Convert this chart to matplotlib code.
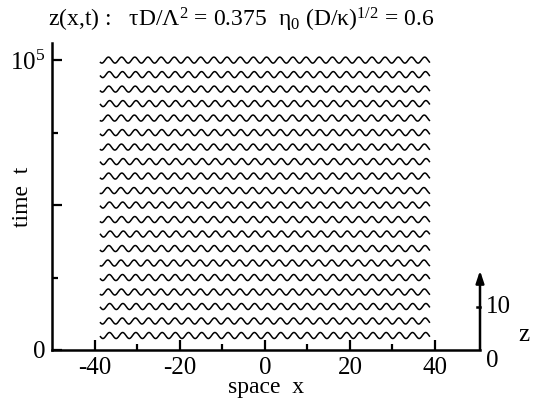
import matplotlib
matplotlib.use('Agg')
import matplotlib.pyplot as plt
import numpy as np

plt.rcParams['font.family'] = ['Liberation Serif', 'DejaVu Serif']
plt.rcParams['mathtext.fontset'] = 'custom'
plt.rcParams['mathtext.rm'] = 'Liberation Serif'
plt.rcParams['mathtext.it'] = 'Liberation Serif'

# times at which the profile z(x,t) is shown
t_values = [5000, 10000, 15000, 20000, 25000, 30000, 35000, 40000, 45000, 50000,
            55000, 60000, 65000, 70000, 75000, 80000, 85000, 90000, 95000, 100000]
# phase of the ripple on each line (radians), read by eye
phases = [0.3, 0.5, 0.2, 0.9, 0.4, 1.1, 0.6, 0.0, 0.8, 0.3,
          1.2, 0.7, 0.1, 0.9, 0.5, 1.0, 0.2, 0.6, 0.4, 0.8]
x_start = -38.7
x_end = 38.7
wavelength = 3.1      # space units
amplitude = 0.7       # z units
z_to_t = 1480.0       # one z unit drawn as this many t units

xticks_major = [-40, -20, 0, 20, 40]
xticks_minor = [-30, -10, 10, 30]
yticks_major = [0, 50000, 100000]
yticks_minor = [25000, 75000]

fig = plt.figure(figsize=(5.38, 4.05), dpi=100)
ax = fig.add_axes([52/538, 55/405, 428/538, 307/405])

x = np.linspace(x_start, x_end, 1200)
for t, ph in zip(t_values, phases):
    z = amplitude * np.sin(2*np.pi*x/wavelength + ph)
    ax.plot(x, t + z*z_to_t, color='black', lw=1.1)

ax.set_xlim(-50.1, 50.6)
ax.set_ylim(0, 105900)

ax.set_xticks(xticks_major)
ax.set_xticks(xticks_minor, minor=True)
ax.set_xticklabels(['-40', '-20', '0', '20', '40'])
ax.set_yticks(yticks_major)
ax.set_yticks(yticks_minor, minor=True)
ax.set_yticklabels(['0', '', r'$10^5$'])

ax.tick_params(axis='both', which='major', direction='in', length=7, width=1.6,
               labelsize=18, top=False, right=False)
ax.tick_params(axis='both', which='minor', direction='in', length=4, width=1.6,
               top=False, right=False)
ax.tick_params(axis='x', pad=5)
ax.tick_params(axis='y', pad=5)

for s in ['top', 'right']:
    ax.spines[s].set_visible(False)
for s in ['left', 'bottom']:
    ax.spines[s].set_linewidth(1.8)

ax.set_xlabel('space  x', fontsize=17)
ax.xaxis.set_label_coords(0.5, -0.088)
ax.set_ylabel('time  t', fontsize=17)
ax.yaxis.set_label_coords(-0.045, 0.5)

# z scale arrow on the right
xr = 50.6
ax.annotate('', xy=(xr, 18.5*z_to_t), xytext=(xr, 0),
            arrowprops=dict(arrowstyle='-|>,head_length=0.6,head_width=0.2',
                            color='black', lw=1.8,
                            mutation_scale=12, shrinkA=0, shrinkB=0),
            annotation_clip=False)
ax.plot([xr - 0.8, xr], [10*z_to_t, 10*z_to_t], color='black', lw=1.8, clip_on=False)
ax.text(xr + 1.4, 10*z_to_t, '10', fontsize=18, ha='left', va='center')
ax.text(xr + 1.4, 0, '0', fontsize=18, ha='left', va='top')
ax.text(xr + 9.0, 3.6*z_to_t, 'z', fontsize=18, ha='left', va='center')

fig.text(241/538, 1 - 20/405,
         r'z(x,t) :   $\tau$D/$\Lambda^2$ = 0.375  $\eta_0$ (D/$\kappa$)$^{1/2}$ = 0.6',
         fontsize=17, ha='center', va='center')

fig.savefig('out.png', dpi=100)
